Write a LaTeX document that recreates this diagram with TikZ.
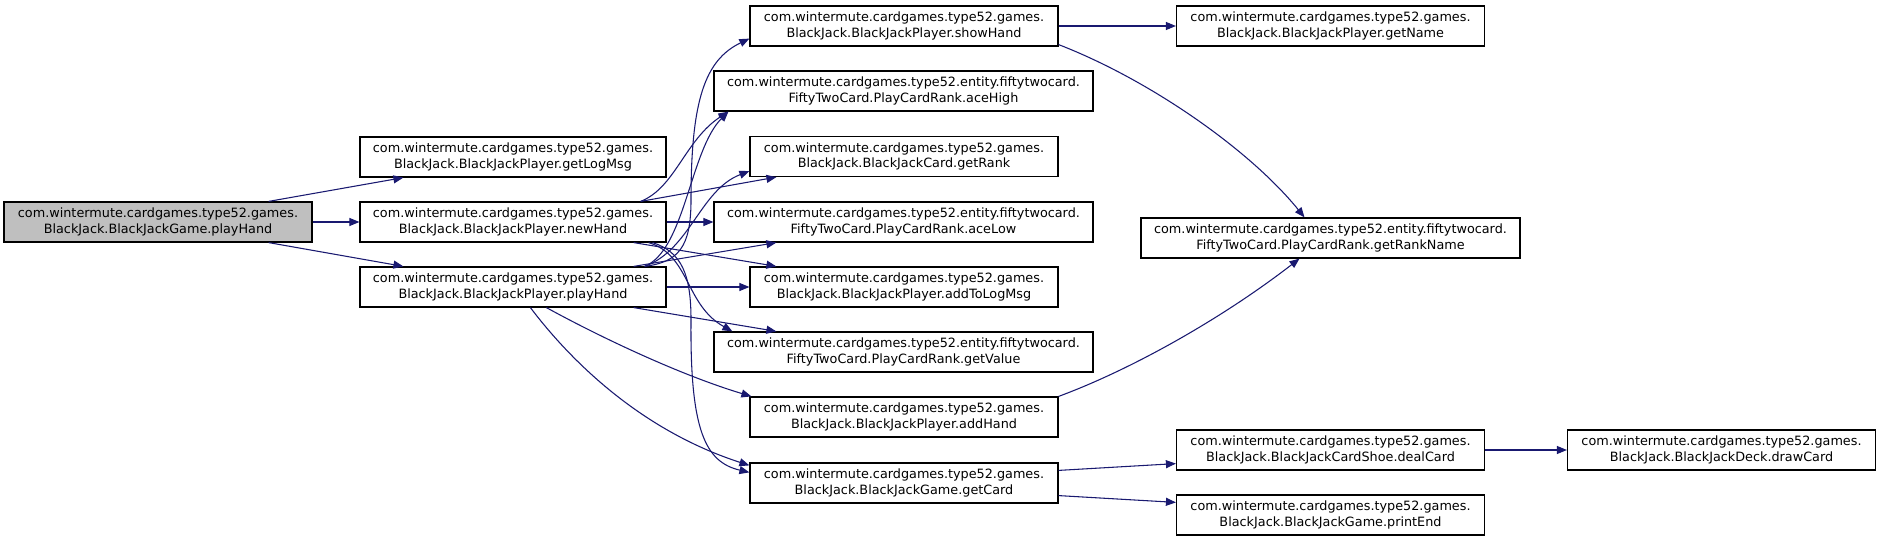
\documentclass[tikz,border=0pt]{standalone}
\usepackage{fontspec}
\setmainfont{DejaVu Sans}
\usetikzlibrary{calc,arrows.meta}
\definecolor{edgecol}{HTML}{191970}
\definecolor{rootfill}{HTML}{BFBFBF}
\begin{document}
\begin{tikzpicture}[x=0.75pt,y=-0.75pt,
  fn/.style={draw=black, line width=0.9pt, minimum height=30pt, inner sep=0pt,
    align=center, font=\fontsize{9.6}{11.75}\selectfont},
  wA/.style={minimum width=231pt},
  wB/.style={minimum width=229.5pt},
  wL/.style={minimum width=284.25pt},
  edge/.style={draw=edgecol, line width=0.8pt, -{Triangle[length=7.5pt,width=6pt]}}]
\useasboundingbox (0,0) rectangle (1880,541);
% column 1
\node[fn, wA, fill=rootfill] (gph) at (158,222) {com.wintermute.cardgames.type52.games.\\BlackJack.BlackJackGame.playHand};
% column 2
\node[fn, wB] (glog) at (513,157) {com.wintermute.cardgames.type52.games.\\BlackJack.BlackJackPlayer.getLogMsg};
\node[fn, wB] (nh) at (513,222) {com.wintermute.cardgames.type52.games.\\BlackJack.BlackJackPlayer.newHand};
\node[fn, wB] (pp) at (513,287) {com.wintermute.cardgames.type52.games.\\BlackJack.BlackJackPlayer.playHand};
% column 3
\node[fn, wA] (sh) at (904,26) {com.wintermute.cardgames.type52.games.\\BlackJack.BlackJackPlayer.showHand};
\node[fn, wL] (ah) at (903.5,91) {com.wintermute.cardgames.type52.entity.fiftytwocard.\\FiftyTwoCard.PlayCardRank.aceHigh};
\node[fn, wA] (gr) at (904,156.5) {com.wintermute.cardgames.type52.games.\\BlackJack.BlackJackCard.getRank};
\node[fn, wL] (al) at (903.5,222) {com.wintermute.cardgames.type52.entity.fiftytwocard.\\FiftyTwoCard.PlayCardRank.aceLow};
\node[fn, wA] (atl) at (904,287) {com.wintermute.cardgames.type52.games.\\BlackJack.BlackJackPlayer.addToLogMsg};
\node[fn, wL] (gv) at (903.5,352) {com.wintermute.cardgames.type52.entity.fiftytwocard.\\FiftyTwoCard.PlayCardRank.getValue};
\node[fn, wA] (ad) at (904,417) {com.wintermute.cardgames.type52.games.\\BlackJack.BlackJackPlayer.addHand};
\node[fn, wA] (gc) at (904,483) {com.wintermute.cardgames.type52.games.\\BlackJack.BlackJackGame.getCard};
% column 4
\node[fn, wA] (gn) at (1330.5,26) {com.wintermute.cardgames.type52.games.\\BlackJack.BlackJackPlayer.getName};
\node[fn, wL] (grn) at (1330.5,238) {com.wintermute.cardgames.type52.entity.fiftytwocard.\\FiftyTwoCard.PlayCardRank.getRankName};
\node[fn, wA] (dc) at (1330.5,450) {com.wintermute.cardgames.type52.games.\\BlackJack.BlackJackCardShoe.dealCard};
\node[fn, wA] (pe) at (1330.5,515) {com.wintermute.cardgames.type52.games.\\BlackJack.BlackJackGame.printEnd};
% column 5
\node[fn, wA] (dw) at (1721.5,450) {com.wintermute.cardgames.type52.games.\\BlackJack.BlackJackDeck.drawCard};

% edges from root
\draw[edge] ($(gph.north east)+(-44,0)$) -- ($(glog.south west)+(44,0)$);
\draw[edge] (gph.east) -- (nh.west);
\draw[edge] ($(gph.south east)+(-44,0)$) -- ($(pp.north west)+(44,0)$);

% edges from newHand
\draw[edge] ($(nh.north east)+(-26,0)$) .. controls (675,188) and (685,140) .. ($(ah.south west)+(15,0)$);
\draw[edge] ($(nh.north east)+(-26,0)$) -- ($(gr.south west)+(27,0)$);
\draw[edge] (nh.east) -- (al.west);
\draw[edge] ($(nh.south east)+(-33,0)$) -- ($(atl.north west)+(27,0)$);
\draw[edge] ($(nh.south east)+(-18,0)$) .. controls (690,255) and (685,305) .. ($(gv.north west)+(19,0)$);
\draw[edge] ($(nh.south east)+(-14,0)$) .. controls (682,252) and (691,275) .. (691,320) .. controls (690,430) and (705,462) .. ($(gc.north west)+(0,10)$);

% edges from Player.playHand
\draw[edge] ($(pp.north east)+(-22,0)$) .. controls (678,262) and (691,248) .. (691,200) .. controls (691,100) and (705,60) .. ($(sh.south west)+(0,-8)$);
\draw[edge] ($(pp.north east)+(-22,0)$) .. controls (685,250) and (690,150) .. ($(ah.south west)+(15,0)$);
\draw[edge] ($(pp.north east)+(-22,0)$) .. controls (690,250) and (700,190) .. ($(gr.south west)+(0,-6)$);
\draw[edge] ($(pp.north east)+(-33,0)$) -- ($(al.south west)+(63,0)$);
\draw[edge] (pp.east) -- (atl.west);
\draw[edge] ($(pp.south east)+(-33,0)$) -- ($(gv.north west)+(63,0)$);
\draw[edge] ($(pp.south west)+(187,0)$) .. controls (600,337) and (680,375) .. ($(ad.north west)+(2,0)$);
\draw[edge] ($(pp.south west)+(171,0)$) .. controls (570,360) and (640,430) .. ($(gc.north west)+(0,3)$);

% right side
\draw[edge] (sh.east) -- (gn.west);
\draw[edge] ($(sh.south east)+(0,-2)$) .. controls (1150,80) and (1250,150) .. ($(grn.north)+(-26,0)$);
\draw[edge] (ad.north east) .. controls (1130,370) and (1220,320) .. ($(grn.south)+(-31,0)$);
\draw[edge] ($(gc.north east)+(0,8)$) -- ($(dc.south west)+(0,-7)$);
\draw[edge] ($(gc.south east)+(0,-8)$) -- ($(pe.north west)+(0,8)$);
\draw[edge] (dc.east) -- (dw.west);
\end{tikzpicture}
\end{document}
